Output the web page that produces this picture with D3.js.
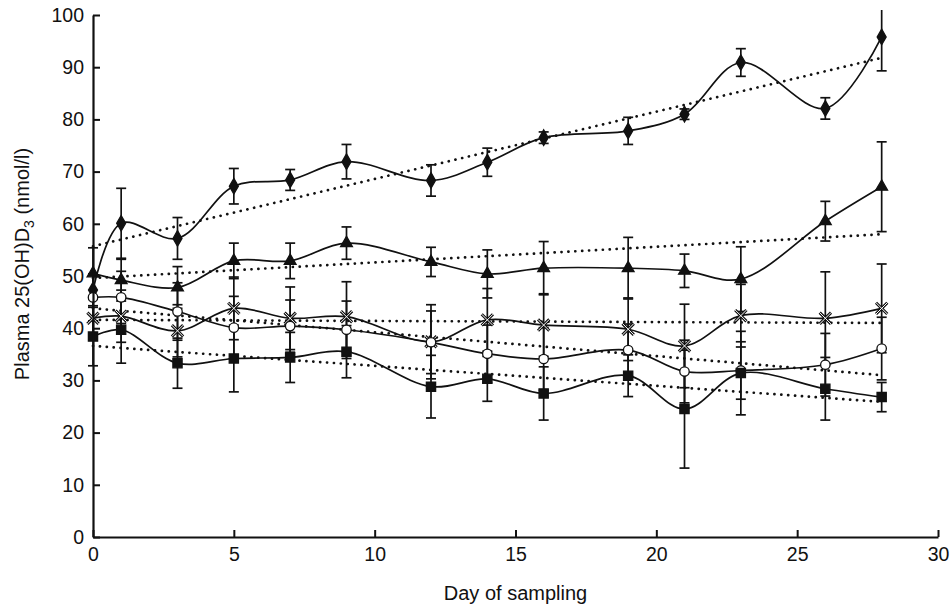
<!DOCTYPE html>
<html>
<head>
<meta charset="utf-8">
<script src="https://cdn.jsdelivr.net/npm/d3@7"></script>
<style>
  html, body { margin: 0; padding: 0; background: #fff; }
  svg { display: block; font-family: "Liberation Sans", Arial, Helvetica, sans-serif; }
</style>
</head>
<body>
<svg id="chart" width="952" height="615"></svg>
<script>
// ---- data ----
const days = [0, 1, 3, 5, 7, 9, 12, 14, 16, 19, 21, 23, 26, 28];

const diamondVals = [47.3, 60.1, 57.2, 67.2, 68.4, 71.9, 68.3, 71.8, 76.5, 77.8, 81.0, 90.9, 82.1, 95.8];
const diamondErr  = [3.0, 6.7, 4.0, 3.4, 2.0, 3.3, 3.0, 2.7, 1.1, 2.6, 1.0, 2.65, 2.05, 6.5];

const triangleVals = [50.5, 49.2, 47.8, 52.9, 52.9, 56.3, 52.7, 50.4, 51.5, 51.5, 51.0, 49.4, 60.5, 67.1];
const triangleErr  = [4.9, 4.0, 4.0, 3.4, 3.4, 3.1, 2.8, 4.6, 5.1, 5.9, 3.2, 6.2, 3.8, 8.6];

const crossVals = [41.9, 42.3, 39.5, 43.8, 41.9, 42.2, 37.4, 41.6, 40.6, 39.8, 36.6, 42.4, 41.9, 43.8];
const crossErr  = [4.0, 5.0, 5.0, 6.0, 6.0, 6.7, 7.1, 6.0, 6.0, 6.0, 8.0, 6.0, 8.9, 8.5];

const circleVals = [45.9, 45.9, 43.2, 40.1, 40.4, 39.7, 37.3, 35.1, 34.1, 35.8, 31.7, 31.9, 33.0, 36.1];
const circleErr  = [4.5, 5.0, 5.5, 6.0, 5.0, 5.5, 6.0, 5.5, 6.0, 5.0, 6.0, 5.5, 6.0, 6.0];

const squareVals = [38.4, 39.7, 33.3, 34.2, 34.4, 35.5, 28.8, 30.3, 27.5, 30.9, 24.5, 31.4, 28.4, 26.8];
const squareErr  = [5.6, 6.4, 4.8, 6.4, 4.8, 5.0, 6.0, 4.3, 5.1, 4.0, 11.3, 8.0, 6.0, 2.8];

// linear trend lines: value at first and last sampling day
const trendDays     = [0, 28];
const diamondTrend  = [55.7, 91.8];
const triangleTrend = [49.6, 58.0];
const crossTrend    = [41.6, 41.0];
const circleTrend   = [43.8, 31.0];
const squareTrend   = [36.6, 25.9];

const xTicks = [0, 5, 10, 15, 20, 25, 30];
const yTicks = [0, 10, 20, 30, 40, 50, 60, 70, 80, 90, 100];
const xTitle = "Day of sampling";

// ---- layout ----
const svg = d3.select("#chart");
const x = d3.scaleLinear().domain([0, 30]).range([93, 938]);
const y = d3.scaleLinear().domain([0, 100]).range([537, 15]);
const TICKFONT = 19.5;
const TITLEFONT = 20;

const series = [
  { name: "diamond",  vals: diamondVals,  err: diamondErr,  trend: diamondTrend },
  { name: "triangle", vals: triangleVals, err: triangleErr, trend: triangleTrend },
  { name: "cross",    vals: crossVals,    err: crossErr,    trend: crossTrend },
  { name: "circle",   vals: circleVals,   err: circleErr,   trend: circleTrend },
  { name: "square",   vals: squareVals,   err: squareErr,   trend: squareTrend }
];

svg.append("defs").append("clipPath").attr("id", "plotclip")
  .append("rect").attr("x", 0).attr("y", 10).attr("width", 952).attr("height", 600);

const plot = svg.append("g").attr("clip-path", "url(#plotclip)");

// trend lines (dotted)
const trendLine = d3.line().x((d, i) => x(trendDays[i])).y(d => y(d));
series.forEach(s => {
  plot.append("path")
    .attr("d", trendLine(s.trend))
    .attr("fill", "none")
    .attr("stroke", "#111")
    .attr("stroke-width", 2.7)
    .attr("stroke-linecap", "round")
    .attr("stroke-dasharray", "0.1,6.8");
});

// error bars
const capHalf = 5;
series.forEach(s => {
  const g = plot.append("g").attr("stroke", "#111").attr("stroke-width", 1.7).attr("fill", "none");
  days.forEach((d, i) => {
    const cx = x(d), top = y(s.vals[i] + s.err[i]), bot = y(s.vals[i] - s.err[i]);
    g.append("line").attr("x1", cx).attr("x2", cx).attr("y1", top).attr("y2", bot);
    g.append("line").attr("x1", cx - capHalf).attr("x2", cx + capHalf).attr("y1", top).attr("y2", top);
    g.append("line").attr("x1", cx - capHalf).attr("x2", cx + capHalf).attr("y1", bot).attr("y2", bot);
  });
});

// smoothed lines
const smooth = d3.line().x((d, i) => x(days[i])).y(d => y(d)).curve(d3.curveCatmullRom.alpha(0.5));
series.forEach(s => {
  plot.append("path")
    .attr("d", smooth(s.vals))
    .attr("fill", "none")
    .attr("stroke", "#111")
    .attr("stroke-width", 1.7);
});

// markers
const symbolFor = {
  diamond:  { type: d3.symbolDiamond,  size: 70, fill: "#111", stroke: "#111" },
  triangle: { type: d3.symbolTriangle, size: 60, fill: "#111", stroke: "#111" },
  cross:    { type: d3.symbolTimes,    size: 85, fill: "none", stroke: "#111" },
  circle:   { type: d3.symbolCircle,   size: 70, fill: "#fff", stroke: "#111" },
  square:   { type: d3.symbolSquare,   size: 85, fill: "#111", stroke: "#111" }
};
series.forEach(s => {
  const sym = symbolFor[s.name];
  const gen = d3.symbol().type(sym.type).size(sym.size);
  const g = plot.append("g");
  if (s.name === "cross") {
    // outlined x: thick dark stroke with a thin white core
    g.selectAll("path.o").data(s.vals).join("path").attr("class", "o")
      .attr("transform", (d, i) => `translate(${x(days[i])},${y(d)})`)
      .attr("d", gen()).attr("fill", "none").attr("stroke", "#111").attr("stroke-width", 3);
    g.selectAll("path.i").data(s.vals).join("path").attr("class", "i")
      .attr("transform", (d, i) => `translate(${x(days[i])},${y(d)})`)
      .attr("d", gen()).attr("fill", "none").attr("stroke", "#fff").attr("stroke-width", 1);
  } else {
    g.selectAll("path").data(s.vals).join("path")
      .attr("transform", (d, i) => `translate(${x(days[i])},${y(d)})`)
      .attr("d", gen())
      .attr("fill", sym.fill)
      .attr("stroke", sym.stroke)
      .attr("stroke-width", 1.3);
  }
});

// axes
const xAxis = d3.axisBottom(x).tickValues(xTicks).tickSizeInner(-7).tickSizeOuter(0).tickPadding(10);
const yAxis = d3.axisLeft(y).tickValues(yTicks).tickSizeInner(-7).tickSizeOuter(0).tickPadding(9);

const gx = svg.append("g").attr("transform", `translate(0,${y(0)})`).call(xAxis);
const gy = svg.append("g").attr("transform", `translate(${x(0)},0)`).call(yAxis);
[gx, gy].forEach(g => {
  g.select(".domain").attr("stroke", "#111").attr("stroke-width", 2.2);
  g.selectAll(".tick line").attr("stroke", "#111").attr("stroke-width", 2);
  g.selectAll(".tick text").attr("fill", "#111").style("font-size", TICKFONT + "px")
    .style("font-family", "'Liberation Sans', Arial, sans-serif");
});

// axis titles
svg.append("text")
  .attr("x", (x(0) + x(30)) / 2).attr("y", 600)
  .attr("text-anchor", "middle")
  .style("font-size", TITLEFONT + "px").attr("fill", "#111")
  .text(xTitle);

const yt = svg.append("text")
  .attr("transform", `translate(29,264) rotate(-90)`)
  .attr("text-anchor", "middle")
  .style("font-size", TITLEFONT + "px").attr("fill", "#111");
yt.append("tspan").text("Plasma 25(OH)D");
yt.append("tspan").attr("dy", 5).style("font-size", (TITLEFONT * 0.7) + "px").text("3");
yt.append("tspan").attr("dy", -5).text(" (nmol/l)");
</script>
</body>
</html>
